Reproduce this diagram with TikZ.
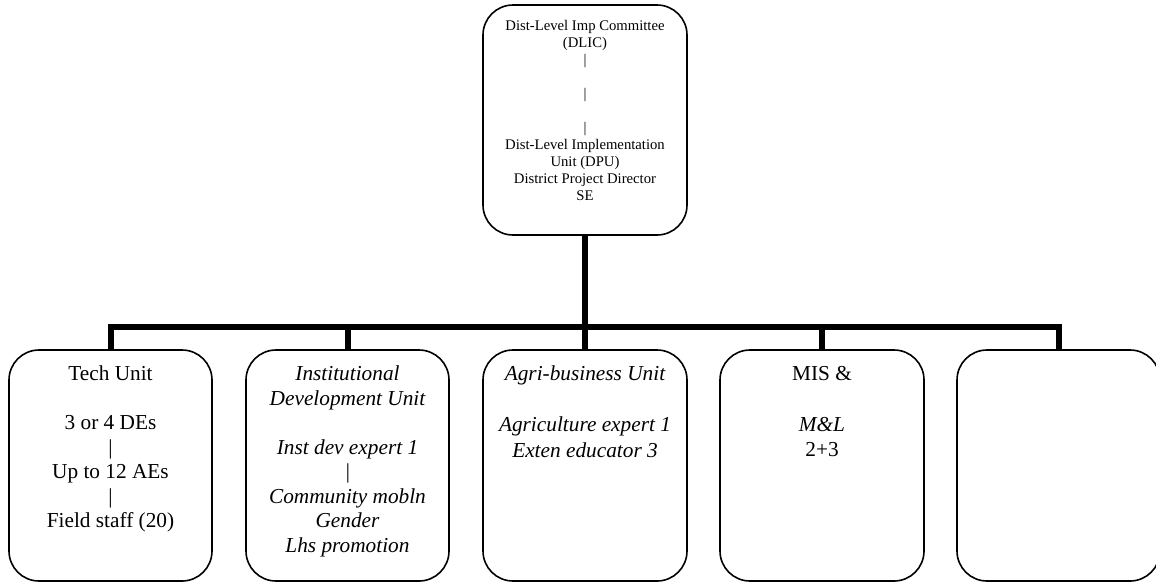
\documentclass[tikz,border=0pt]{standalone}
\usepackage{fontspec}
\setmainfont{Liberation Serif}
\begin{document}
\begin{tikzpicture}[x=1pt,y=-1pt,
  unitbox/.style={draw, line width=1.6pt, rounded corners=30pt, inner sep=0pt},
  conn/.style={line width=6pt, line join=miter},
  toptext/.style={align=center, anchor=north, inner sep=0pt, font=\fontsize{14.7}{17}\selectfont},
  bottext/.style={align=center, anchor=north, inner sep=0pt, font=\fontsize{21.3}{24.5}\selectfont}]
\useasboundingbox (0,0) rectangle (1156,582);
\clip (0,0) rectangle (1156,582);

% top box
\node[unitbox, minimum width=204pt, minimum height=230pt] (top) at (585,120) {};
\node[toptext] (toptxt) at (585,20) {Dist-Level Imp Committee\\(DLIC)\\|\\\mbox{}\\|\\\mbox{}\\|\\Dist-Level Implementation\\Unit (DPU)\\District Project Director\\SE};

% bottom boxes
\node[unitbox, minimum width=203pt, minimum height=231pt] (b1) at (110.5,465.5) {};
\node[unitbox, minimum width=203pt, minimum height=231pt] (b2) at (347.5,465.5) {};
\node[unitbox, minimum width=204pt, minimum height=231pt] (b3) at (585,465.5) {};
\node[unitbox, minimum width=204pt, minimum height=231pt] (b4) at (822,465.5) {};
\node[unitbox, minimum width=203pt, minimum height=231pt] (b5) at (1058.5,465.5) {};

\node[bottext] (t1) at (110.5,366) {Tech Unit\\\mbox{}\\3 or 4 DEs\\|\\Up to 12 AEs\\|\\Field staff (20)};
\node[bottext, font=\fontsize{21.3}{24.5}\selectfont\itshape] (t2) at (347.5,366) {Institutional\\Development Unit\\\mbox{}\\Inst dev expert 1\\|\\Community mobln\\Gender\\Lhs promotion};
\node[bottext, font=\fontsize{21.3}{25.5}\selectfont\itshape] (t3) at (585,366) {Agri-business Unit\\\mbox{}\\Agriculture expert 1\\Exten educator 3};
\node[bottext, font=\fontsize{21.3}{25.5}\selectfont] (t4) at (822,366) {MIS \&\\\mbox{}\\\textit{M\&L}\\2+3};

% connectors
\coordinate (bar) at (585,327);
\draw[conn] (top.south) -- (bar);
\draw[conn] (bar) -| (b1.north);
\draw[conn] (bar) -| (b2.north);
\draw[conn] (bar) -- (b3.north);
\draw[conn] (bar) -| (b4.north);
\draw[conn] (bar) -| (b5.north);
\end{tikzpicture}
\end{document}
